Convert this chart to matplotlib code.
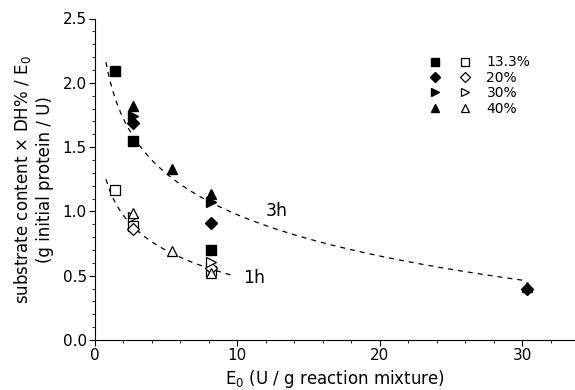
import numpy as np
import matplotlib.pyplot as plt
from matplotlib.legend_handler import HandlerTuple
from matplotlib.ticker import MultipleLocator

# E0 (U / g reaction mixture) and substrate content x DH% / E0
# filled = 3h, open = 1h
sq_e0_3h = [1.40, 2.69, 8.12]
sq_3h = [2.09, 1.55, 0.70]
sq_e0_1h = [1.40, 2.69, 8.12]
sq_1h = [1.17, 0.89, 0.54]

di_e0_3h = [2.69, 8.12, 30.3]
di_3h = [1.69, 0.91, 0.40]
di_e0_1h = [2.69, 8.12]
di_1h = [0.86, 0.56]

rt_e0_3h = [2.69, 8.12]
rt_3h = [1.74, 1.07]
rt_e0_1h = [2.69, 8.12]
rt_1h = [0.96, 0.61]

tr_e0_3h = [2.69, 5.39, 8.12, 30.3]
tr_3h = [1.82, 1.33, 1.135, 0.41]
tr_e0_1h = [2.69, 5.39, 8.12]
tr_1h = [0.99, 0.69, 0.52]

labels = ['13.3%', '20%', '30%', '40%']

# log fits  y = a - b ln(E0)
fit_3h = (2.04, 0.463)
fit_1h = (1.173, 0.296)
fit_range_3h = (0.77, 30.0)
fit_range_1h = (0.77, 9.7)

fig = plt.figure(figsize=(5.75, 3.9), dpi=100)
ax = fig.add_axes([95 / 575, 50 / 390, 480 / 575, 321.5 / 390])

for rng, (a, b) in [(fit_range_3h, fit_3h), (fit_range_1h, fit_1h)]:
    xs = np.linspace(rng[0], rng[1], 200)
    ax.plot(xs, a - b * np.log(xs), color='black', lw=0.9, ls=(0, (4, 4)))

series = [
    ('s', 6.5, sq_e0_3h, sq_3h, sq_e0_1h, sq_1h),
    ('D', 6.0, di_e0_3h, di_3h, di_e0_1h, di_1h),
    ('>', 7.5, rt_e0_3h, rt_3h, rt_e0_1h, rt_1h),
    ('^', 7.5, tr_e0_3h, tr_3h, tr_e0_1h, tr_1h),
]
handles = []
for m, ms, x3, y3, x1, y1 in series:
    h3, = ax.plot(x3, y3, ls='none', marker=m, ms=ms, color='black', mec='black')
    h1, = ax.plot(x1, y1, ls='none', marker=m, ms=ms, mfc='white', mec='black', mew=0.9)
    handles.append((h3, h1))

ax.legend(handles, labels, handler_map={tuple: HandlerTuple(ndivide=None, pad=1.15)},
          loc='upper left', bbox_to_anchor=(0.668, 0.924), frameon=False, fontsize=10,
          handlelength=3.2, handletextpad=1.0, labelspacing=0.1, markerscale=0.85,
          borderpad=0.4)

ax.text(12.76, 1.0, '3h', fontsize=12.5, ha='center', va='center')
ax.text(11.2, 0.486, '1h', fontsize=12.5, ha='center', va='center')

ax.set_xlim(0, 33.7)
ax.set_ylim(0, 2.5)
ax.xaxis.set_major_locator(MultipleLocator(10))
ax.xaxis.set_minor_locator(MultipleLocator(2))
ax.yaxis.set_major_locator(MultipleLocator(0.5))
ax.yaxis.set_minor_locator(MultipleLocator(0.1))
ax.yaxis.set_major_formatter(plt.FormatStrFormatter('%.1f'))
ax.tick_params(which='major', direction='out', length=4, labelsize=11, color='black', pad=2)
ax.tick_params(which='minor', direction='out', length=2.5)
for s in ['top', 'right']:
    ax.spines[s].set_visible(False)

ax.set_xlabel('E$_0$ (U / g reaction mixture)', fontsize=12, labelpad=3)
ax.set_ylabel('substrate content \u00d7 DH% / E$_0$\n(g initial protein / U)', fontsize=12, labelpad=6)

fig.savefig('out.png', dpi=100)
